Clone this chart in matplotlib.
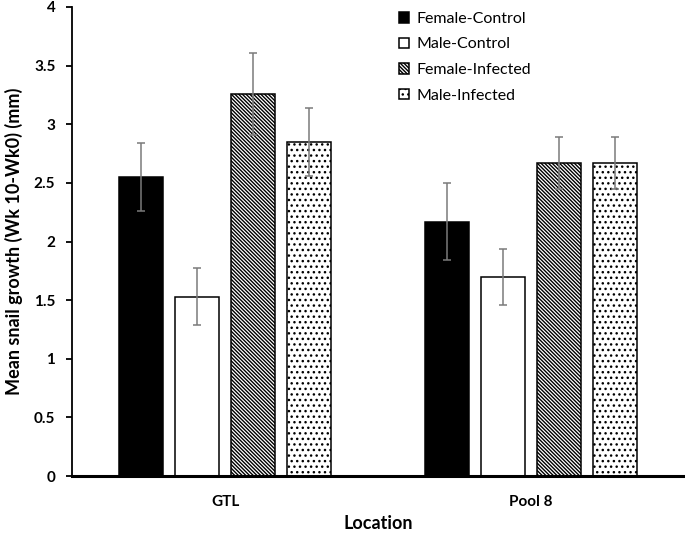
import matplotlib
matplotlib.use("Agg")
import matplotlib.pyplot as plt
import numpy as np

locations = ["GTL", "Pool 8"]
series = ["Female-Control", "Male-Control", "Female-Infected", "Male-Infected"]
female_control = [2.55, 2.17]
male_control = [1.53, 1.70]
female_infected = [3.26, 2.67]
male_infected = [2.85, 2.67]
err_female_control = [0.29, 0.33]
err_male_control = [0.245, 0.24]
err_female_infected = [0.35, 0.22]
err_male_infected = [0.29, 0.22]
yticks = [0, 0.5, 1, 1.5, 2, 2.5, 3, 3.5, 4]
ytick_labels = ["0", "0.5", "1", "1.5", "2", "2.5", "3", "3.5", "4"]

plt.rcParams['font.family'] = ['Lato', 'DejaVu Sans']
plt.rcParams['hatch.linewidth'] = 1.0

fig = plt.figure(figsize=(6.85, 5.33), dpi=100)
ax = fig.add_axes([72/685, 57/533, 612/685, 469/533])

values = [female_control, male_control, female_infected, male_infected]
errs = [err_female_control, err_male_control, err_female_infected, err_male_infected]
faces = ["black", "white", "white", "white"]
hatches = [None, None, "\\" * 9, "..."]
x = np.arange(len(locations))
step = 0.182
width = 0.144
handles = []
for i, (v, e, fc, h) in enumerate(zip(values, errs, faces, hatches)):
    b = ax.bar(x + (i - 1.5) * step, v, width, color=fc, edgecolor="black",
               linewidth=1.1, hatch=h, label=series[i], zorder=2)
    ax.errorbar(x + (i - 1.5) * step, v, yerr=e, fmt="none", ecolor="#7a7a7a",
                elinewidth=1.1, capsize=3, capthick=1.1, zorder=3)
    handles.append(b)

ax.set_xlim(-0.5, 1.5)
ax.set_ylim(0, 4)
ax.set_yticks(yticks)
ax.set_yticklabels(ytick_labels, fontsize=11, fontweight="bold")
ax.set_xticks(x)
ax.set_xticklabels(locations, fontsize=11, fontweight="bold")
ax.tick_params(axis="x", length=0, pad=14)
ax.tick_params(axis="y", length=4, width=1.3, direction="out", pad=8)
for s in ["top", "right"]:
    ax.spines[s].set_visible(False)
ax.spines["left"].set_linewidth(1.3)
ax.spines["bottom"].set_linewidth(2.2)
ax.set_xlabel("Location", fontsize=13, fontweight="bold", labelpad=4)
ax.set_ylabel("Mean snail growth (Wk 10-Wk0) (mm)", fontsize=13, fontweight="bold", labelpad=8)

leg = fig.legend(handles=handles, labels=series, loc="upper left",
                 bbox_to_anchor=(399/685, 1 - 12/533), frameon=False, fontsize=11.5,
                 handlelength=0.65, handleheight=0.65, handletextpad=0.45,
                 labelspacing=0.72, borderaxespad=0, borderpad=0)

fig.savefig("out.png", dpi=100)
